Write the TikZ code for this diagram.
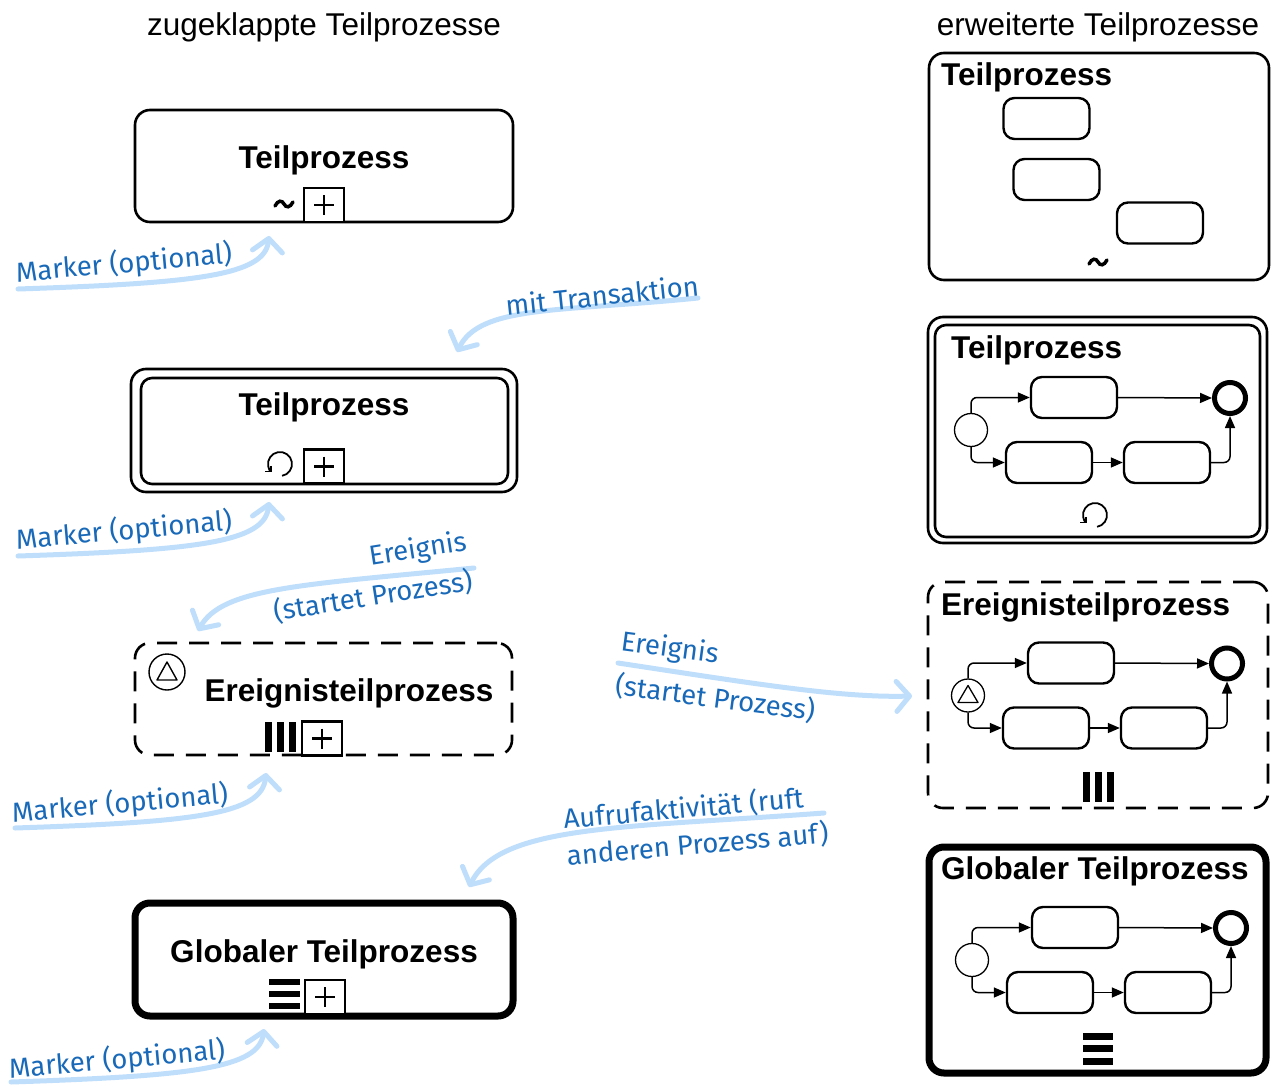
\documentclass[tikz,border=0pt]{standalone}
\usepackage{fontspec}
\setmainfont{Liberation Sans}
\newfontfamily\handfont{Fira Sans}
\usetikzlibrary{arrows.meta}
\definecolor{annotext}{RGB}{25,105,185}
\definecolor{annoline}{RGB}{190,222,252}
\tikzset{
  title/.style={font=\fontsize{31.5}{36}\selectfont, inner sep=0pt},
  label/.style={font=\fontsize{31.5}{36}\selectfont\bfseries, inner sep=0pt},
  box/.style={draw, rounded corners=15pt, line width=2.6pt, inner sep=0pt},
  plusbox/.style={draw, line width=2.2pt, inner sep=0pt, minimum width=40pt, minimum height=34pt, fill=white},
  pluslines/.style={line width=2.4pt},
  task/.style={draw, rounded corners=11pt, line width=2.4pt, minimum width=86pt, minimum height=41pt, inner sep=0pt},
  startev/.style={draw, circle, line width=1.3pt, minimum size=33pt, inner sep=0pt, fill=white},
  endev/.style={draw, circle, line width=5pt, minimum size=31pt, inner sep=0pt},
  flow/.style={line width=1.5pt, rounded corners=6pt, -{Triangle[length=12pt,width=10pt]}},
  anno/.style={font=\handfont\fontsize{27.5}{33}\selectfont, text=annotext, inner sep=0pt},
  annoarrow/.style={draw=annoline, line width=5pt, line cap=round,
    -{Straight Barb[length=13pt,width=30pt,line cap=round,line join=round]}},
  loopmark/.style={line width=1.8pt, -{Straight Barb[length=4pt,width=8pt]}},
  tilde/.style={line width=3.5pt, line cap=round},
}
\newcommand\plusmark[3]{%
  \node[plusbox] (#1) at (#2,#3) {};
  \draw[pluslines] (#1.center) +(-10,0) -- +(10,0) (#1.center) +(0,-10) -- +(0,10);}
\newcommand\flowpart[3]{%
  \begin{scope}[shift={(#2,#3)}]
    \node[startev] (#1s) at (971,430) {};
    \node[task] (#1t1) at (1074,397.5) {};
    \node[endev] (#1e) at (1230,398) {};
    \node[task] (#1t2) at (1049,462.5) {};
    \node[task] (#1t3) at (1167,462.5) {};
  \end{scope}
  \draw[flow] (#1s.north) |- (#1t1.west);
  \draw[flow] (#1t1.east) -- (#1e.west);
  \draw[flow] (#1s.south) |- (#1t2.west);
  \draw[flow] (#1t2.east) -- (#1t3.west);
  \draw[flow] (#1t3.east) -| (#1e.south);}
\begin{document}
\begin{tikzpicture}[x=1pt,y=-1pt]
\useasboundingbox (0,0) rectangle (1273,1086);

% titles
\node[title, anchor=base] (tl) at (324,36) {zugeklappte Teilprozesse};
\node[title, anchor=base] (tr) at (1098,36) {erweiterte Teilprozesse};

% ---------- left column ----------
% box 1
\node[box, minimum width=378pt, minimum height=112pt] (b1) at (324,166) {};
\node[label, anchor=base] (b1l) at (324,168) {Teilprozess};
\plusmark{b1p}{324}{205}
\draw[tilde] (275,206) .. controls (278,200) and (282,200) .. (284,204) .. controls (286,208) and (290,208) .. (293,202);

% box 2 (transaction)
\node[box, minimum width=386pt, minimum height=123pt] (b2o) at (324,430.5) {};
\node[box, rounded corners=11pt, minimum width=367pt, minimum height=106pt] (b2) at (324.5,431) {};
\node[label, anchor=base] (b2l) at (324,415) {Teilprozess};
\plusmark{b2p}{324}{466.5}
\draw[loopmark] (280,464) ++(80:12) arc[start angle=80, end angle=-225, radius=12];

% box 3 (event sub-process)
\node[box, dash pattern=on 20pt off 12pt, minimum width=377pt, minimum height=112pt] (b3) at (323.5,699) {};
\node[draw, circle, line width=1.4pt, minimum size=36pt, inner sep=0pt] (b3ev) at (167,672) {};
\draw[line width=1.4pt, line join=round] (b3ev.center) +(0,-10) -- +(-10,8) -- +(10,8) -- cycle;
\node[label, anchor=base] (b3l) at (349,701) {Ereignisteilprozess};
\fill (265,722) rectangle (272,752);
\fill (277,722) rectangle (284,752);
\fill (289,722) rectangle (296,752);
\plusmark{b3p}{322}{738.5}

% box 4 (global)
\node[box, line width=7pt, minimum width=378pt, minimum height=113pt] (b4) at (324,959.5) {};
\node[label, anchor=base] (b4l) at (324,962) {Globaler Teilprozess};
\fill (269,979) rectangle (300,985);
\fill (269,991) rectangle (300,997);
\fill (269,1003) rectangle (300,1009);
\plusmark{b4p}{325}{997}

% ---------- right column ----------
% RB1
\node[box, minimum width=340pt, minimum height=227pt] (r1) at (1099,166.5) {};
\node[label, anchor=base west] (r1l) at (941,86) {Teilprozess};
\node[task] (r1t1) at (1046.5,118.5) {};
\node[task] (r1t2) at (1056.5,179.5) {};
\node[task] (r1t3) at (1160,223) {};
\draw[tilde] (1089,264) .. controls (1092,258) and (1096,258) .. (1098,262) .. controls (1100,266) and (1104,266) .. (1107,260);

% RB2
\node[box, minimum width=339pt, minimum height=226pt] (r2o) at (1097.5,430) {};
\node[box, rounded corners=11pt, minimum width=325pt, minimum height=212pt] (r2) at (1097.5,431) {};
\node[label, anchor=base west] (r2l) at (951,358) {Teilprozess};
\flowpart{r2}{0}{0}
\draw[loopmark] (1095,515) ++(80:12) arc[start angle=80, end angle=-225, radius=12];

% RB3
\node[box, dash pattern=on 20pt off 12pt, minimum width=340pt, minimum height=226pt] (r3) at (1098,695) {};
\node[label, anchor=base west] (r3l) at (941,615) {Ereignisteilprozess};
\flowpart{r3}{-3}{265.5}
\draw[line width=1.3pt, line join=round] (r3s.center) +(0,-10) -- +(-10,7) -- +(10,7) -- cycle;
\fill (1083,772) rectangle (1090,802);
\fill (1095,772) rectangle (1102,802);
\fill (1107,772) rectangle (1114,802);

% RB4
\node[box, line width=7pt, minimum width=337pt, minimum height=226pt] (r4) at (1097.5,960) {};
\node[label, anchor=base west] (r4l) at (941,879) {Globaler Teilprozess};
\flowpart{r4}{1}{530}
\fill (1083,1033) rectangle (1113,1040);
\fill (1083,1045) rectangle (1113,1052);
\fill (1083,1058) rectangle (1113,1065);

% ---------- annotations ----------
% A1
\coordinate (a1s) at (18,289);
\coordinate (a1e) at (269,236);
\draw[annoarrow] (a1s) .. controls (200,283) and (265,275) .. (a1e);
\node[anno, rotate=5] (a1) at (124,264) {Marker (optional)};
% A2
\coordinate (a2s) at (698,298);
\coordinate (a2e) at (457,352);
\draw[annoarrow] (a2s) .. controls (560,312) and (480,305) .. (a2e);
\node[anno, rotate=6] (a2) at (602,295) {mit Transaktion};
% A3
\coordinate (a3s) at (18,556);
\coordinate (a3e) at (269,502);
\draw[annoarrow] (a3s) .. controls (200,550) and (265,542) .. (a3e);
\node[anno, rotate=5] (a3) at (124,531) {Marker (optional)};
% A4
\coordinate (a4s) at (474,568);
\coordinate (a4e) at (198,631);
\draw[annoarrow] (a4s) .. controls (300,585) and (222,588) .. (a4e);
\node[anno, rotate=9, align=right, font=\handfont\fontsize{27.5}{40}\selectfont] (a4) at (370,577) {Ereignis\\(startet Prozess)};
% A5
\coordinate (a5s) at (15,828);
\coordinate (a5e) at (266,773);
\draw[annoarrow] (a5s) .. controls (197,822) and (262,814) .. (a5e);
\node[anno, rotate=5] (a5) at (120,804) {Marker (optional)};
% A6
\coordinate (a6s) at (824,813);
\coordinate (a6e) at (469,887);
\draw[annoarrow] (a6s) .. controls (620,828) and (500,825) .. (a6e);
\node[anno, rotate=5, align=left, font=\handfont\fontsize{27.5}{37}\selectfont] (a6) at (696,826) {Aufrufaktivität (ruft\\anderen Prozess auf)};
% A7
\coordinate (a7s) at (11,1082);
\coordinate (a7e) at (264,1029);
\draw[annoarrow] (a7s) .. controls (193,1076) and (259,1068) .. (a7e);
\node[anno, rotate=5] (a7) at (117,1060) {Marker (optional)};
% A8
\coordinate (a8s) at (618,663);
\coordinate (a8e) at (912,696);
\draw[annoarrow] (a8s) .. controls (750,683) and (840,698) .. (a8e);
\node[anno, rotate=-7.5, align=left, font=\handfont\fontsize{27.5}{44}\selectfont] (a8) at (718,677) {Ereignis\\(startet Prozess)};
\end{tikzpicture}
\end{document}
